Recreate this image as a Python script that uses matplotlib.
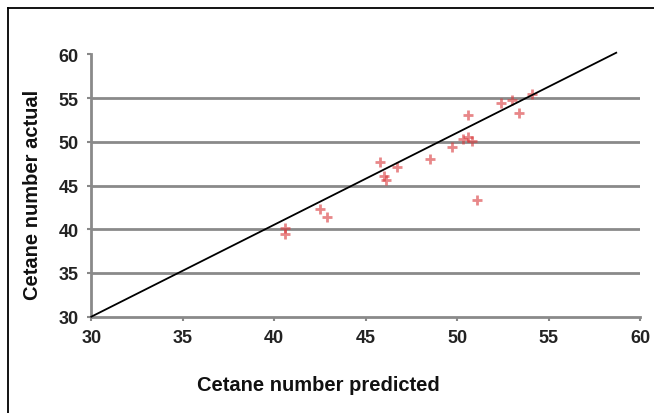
import matplotlib
matplotlib.use("Agg")
import matplotlib.pyplot as plt
from matplotlib.lines import Line2D

predicted = [40.6, 40.6, 42.5, 42.9, 45.8, 46.0, 46.1, 46.7, 48.5, 49.7, 50.3, 50.6, 50.8, 50.6, 51.1, 52.4, 53.0, 53.4, 54.1]
actual    = [40.1, 39.5, 42.3, 41.4, 47.7, 46.1, 45.6, 47.1, 48.0, 49.4, 50.3, 50.6, 50.1, 53.1, 43.4, 54.4, 54.8, 53.3, 55.5]
line_x = [30, 58.7]
line_y = [30, 60.2]
ticks = [30, 35, 40, 45, 50, 55, 60]

plt.rcParams['font.family'] = ['Liberation Sans', 'DejaVu Sans']

fig = plt.figure(figsize=(6.54, 4.14), dpi=100)
ax = fig.add_axes([0.1396, 0.2326, 0.8390, 0.6334])
ax.set_xlim(30, 60)
ax.set_ylim(30, 60)
ax.set_xticks(ticks)
ax.set_yticks(ticks)
ax.tick_params(axis='both', labelsize=13, length=3, width=1.5, color='#888888', pad=6)
for lab in ax.get_xticklabels() + ax.get_yticklabels():
    lab.set_fontweight('bold')
    lab.set_color('#222222')

ax.yaxis.grid(True, color='#8a8a8a', linewidth=2.0)
ax.set_axisbelow(True)
gl = ax.get_ygridlines()
gl[0].set_visible(False)
gl[-1].set_visible(False)

for s in ['top', 'right']:
    ax.spines[s].set_visible(False)
for s in ['left', 'bottom']:
    ax.spines[s].set_color('#8a8a8a')
    ax.spines[s].set_linewidth(2.0)

ax.plot(predicted, actual, linestyle='none', marker='+', markersize=7,
        markeredgewidth=2.0, color='#d9383a', alpha=0.6, clip_on=False, zorder=3)
ax.plot(line_x, line_y, color='black', linewidth=1.3, clip_on=False, zorder=4)

ax.set_xlabel('Cetane number predicted', fontsize=14.5, fontweight='bold', color='#111111')
ax.set_ylabel('Cetane number actual', fontsize=14.5, fontweight='bold', color='#111111')
ax.xaxis.set_label_coords(0.413, -0.257)
ax.yaxis.set_label_coords(-0.108, 0.468)
ax.xaxis.label.set_va('center')
ax.yaxis.label.set_va('center')

# outer frame (top and left edges)
W, H = 654, 414
fig.add_artist(Line2D([8 / W, 1.0], [1 - 9 / H, 1 - 9 / H], color='black', linewidth=1.3, transform=fig.transFigure))
fig.add_artist(Line2D([8 / W, 8 / W], [0.0, 1 - 9 / H], color='black', linewidth=1.3, transform=fig.transFigure))

fig.savefig('out.png', dpi=100)
